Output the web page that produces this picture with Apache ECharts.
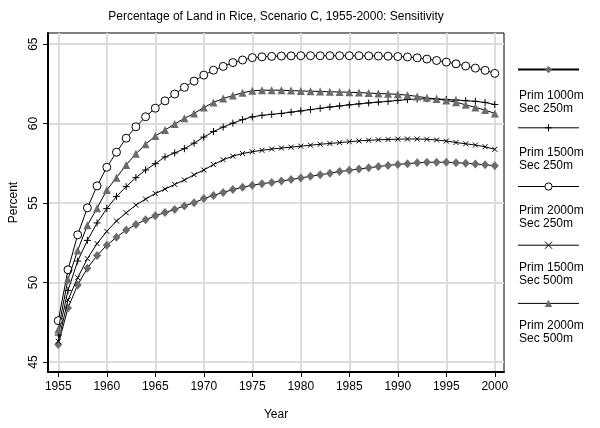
<!DOCTYPE html>
<html>
<head>
<meta charset="utf-8">
<script src="https://cdn.jsdelivr.net/npm/echarts@6/dist/echarts.min.js"></script>
<style>
html,body{margin:0;padding:0;background:#fff;}
#chart{width:600px;height:428px;}
</style>
</head>
<body>
<div id="chart"></div>
<script>
const years = [];
for (let y = 1955; y <= 2000; y++) years.push(y);

const xTicks = [1955, 1960, 1965, 1970, 1975, 1980, 1985, 1990, 1995, 2000];
const yTicks = [45, 50, 55, 60, 65];

const seriesNames = [
  'Prim 1000m\nSec 250m',
  'Prim 1500m\nSec 250m',
  'Prim 2000m\nSec 250m',
  'Prim 1500m\nSec 500m',
  'Prim 2000m\nSec 500m'
];

const prim1000sec250 = [46.1, 48.4, 49.85, 50.9, 51.7, 52.35, 52.85, 53.3, 53.65, 53.95,
  54.2, 54.4, 54.6, 54.82, 55.02, 55.28, 55.48, 55.67, 55.85, 56.0,
  56.12, 56.22, 56.3, 56.38, 56.48, 56.58, 56.68, 56.78, 56.88, 56.98,
  57.06, 57.14, 57.22, 57.3, 57.37, 57.43, 57.48, 57.53, 57.56, 57.57,
  57.57, 57.54, 57.5, 57.46, 57.41, 57.35];

const prim1500sec250 = [46.7, 49.5, 51.35, 52.65, 53.75, 54.65, 55.42, 56.03, 56.6, 57.08,
  57.48, 57.9, 58.15, 58.42, 58.77, 59.15, 59.5, 59.78, 60.03, 60.25,
  60.42, 60.52, 60.58, 60.64, 60.72, 60.8, 60.88, 60.96, 61.04, 61.11,
  61.18, 61.24, 61.3, 61.35, 61.4, 61.46, 61.51, 61.54, 61.56, 61.55,
  61.52, 61.48, 61.44, 61.4, 61.33, 61.2];

const prim2000sec250 = [47.6, 50.8, 53.0, 54.7, 56.08, 57.25, 58.2, 59.08, 59.8, 60.43,
  60.97, 61.43, 61.86, 62.28, 62.67, 63.05, 63.36, 63.6, 63.84, 64.0,
  64.15, 64.2, 64.23, 64.25, 64.26, 64.27, 64.27, 64.27, 64.27, 64.27,
  64.27, 64.27, 64.26, 64.25, 64.24, 64.22, 64.19, 64.14, 64.06, 63.97,
  63.87, 63.76, 63.62, 63.49, 63.35, 63.16];

const prim1500sec500 = [46.3, 48.9, 50.3, 51.5, 52.45, 53.22, 53.87, 54.39, 54.87, 55.25,
  55.6, 55.88, 56.17, 56.45, 56.78, 57.08, 57.42, 57.72, 57.95, 58.12,
  58.23, 58.32, 58.4, 58.46, 58.52, 58.58, 58.64, 58.7, 58.75, 58.8,
  58.86, 58.91, 58.95, 58.98, 59.0, 59.02, 59.03, 59.03, 59.01, 58.97,
  58.9, 58.81, 58.73, 58.65, 58.54, 58.38];

const prim2000sec500 = [47.05, 50.2, 52.02, 53.6, 54.68, 55.82, 56.6, 57.4, 58.1, 58.7,
  59.22, 59.6, 59.97, 60.33, 60.64, 61.01, 61.33, 61.58, 61.76, 61.94,
  62.06, 62.1, 62.1, 62.1, 62.08, 62.05, 62.04, 62.02, 62.0, 61.99,
  61.97, 61.95, 61.92, 61.89, 61.87, 61.84, 61.79, 61.71, 61.62, 61.54,
  61.46, 61.35, 61.18, 61.02, 60.85, 60.64];

const allValues = [prim1000sec250, prim1500sec250, prim2000sec250, prim1500sec500, prim2000sec500];

const FONT = 'Liberation Sans, Arial, sans-serif';
const GRAY = '#6b6b6b';
const plusPath = 'path://M5,0L5,10M0,5L10,5';
const crossPath = 'path://M0,0L10,10M10,0L0,10';

const symbolDefs = [
  { symbol: 'diamond', size: [8, 9], itemStyle: { color: GRAY, borderWidth: 0 } },
  { symbol: plusPath, size: 7, itemStyle: { color: 'none', borderColor: '#000', borderWidth: 1 } },
  { symbol: 'circle', size: 8, itemStyle: { color: '#fff', borderColor: '#000', borderWidth: 1 } },
  { symbol: crossPath, size: 5, itemStyle: { color: 'none', borderColor: '#000', borderWidth: 1 } },
  { symbol: 'triangle', size: 8, itemStyle: { color: GRAY, borderWidth: 0 } }
];

const series = allValues.map((vals, i) => ({
  name: seriesNames[i],
  type: 'line',
  data: years.map((y, k) => [y, vals[k]]),
  symbol: symbolDefs[i].symbol,
  symbolSize: symbolDefs[i].size,
  showAllSymbol: true,
  lineStyle: { color: '#000', width: 1 },
  itemStyle: symbolDefs[i].itemStyle,
  emphasis: { disabled: true },
  animation: false,
  z: 3 + i
}));

const legendIconItems = seriesNames.map((n, i) => ({
  name: n,
  lineStyle: { width: i === 0 ? 2 : 1, color: '#000' },
  itemStyle: Object.assign({}, symbolDefs[i].itemStyle)
}));

const chart = echarts.init(document.getElementById('chart'), null, { renderer: 'canvas' });
chart.setOption({
  backgroundColor: '#fff',
  animation: false,
  textStyle: { fontFamily: FONT },
  graphic: [{
    type: 'text',
    x: 276, y: 17,
    style: {
      text: 'Percentage of Land in Rice, Scenario C, 1955-2000: Sensitivity',
      font: '12px ' + FONT, fill: '#000',
      textAlign: 'center', textVerticalAlign: 'middle'
    }
  }],
  grid: {
    left: 48, top: 33, right: 96, bottom: 56,
    show: true, borderColor: '#000', borderWidth: 1, backgroundColor: '#fff'
  },
  legend: [{
    data: legendIconItems,
    orient: 'vertical',
    left: 517, top: 66,
    itemWidth: 61, itemHeight: 9,
    itemGap: 48.5,
    padding: 0,
    formatter: () => '',
    textStyle: { fontSize: 9, lineHeight: 9 },
    selectedMode: false
  }, {
    data: seriesNames,
    orient: 'vertical',
    left: 513, top: 89,
    icon: 'rect',
    itemWidth: 1, itemHeight: 1,
    itemStyle: { color: 'rgba(0,0,0,0)', borderWidth: 0 },
    itemGap: 31.5,
    padding: 0,
    textStyle: { fontSize: 12, lineHeight: 13, color: '#000', fontFamily: FONT },
    selectedMode: false
  }],
  xAxis: {
    type: 'value',
    min: 1953.94, max: 2000.95,
    name: 'Year', nameLocation: 'middle', nameGap: 37,
    nameTextStyle: { fontSize: 12, color: '#000', fontFamily: FONT },
    axisLine: { show: true, onZero: false, lineStyle: { color: '#000', width: 2 } },
    axisTick: { show: true, length: 5, customValues: xTicks, lineStyle: { color: '#000', width: 1 } },
    axisLabel: { customValues: xTicks, formatter: v => String(v), margin: 9, fontSize: 12, color: '#000', fontFamily: FONT },
    splitLine: { show: true, lineStyle: { color: '#dcdcdc', width: 2 } }
  },
  yAxis: {
    type: 'value',
    min: 44.37, max: 65.7,
    name: 'Percent', nameLocation: 'middle', nameGap: 27,
    nameTextStyle: { fontSize: 12, color: '#000', fontFamily: FONT },
    axisLine: { show: true, onZero: false, lineStyle: { color: '#000', width: 2 } },
    axisTick: { show: true, length: 5, customValues: yTicks, lineStyle: { color: '#000', width: 1 } },
    axisLabel: { customValues: yTicks, formatter: v => String(v), rotate: 90, margin: 8, fontSize: 12, color: '#000', fontFamily: FONT },
    splitLine: { show: true, lineStyle: { color: '#dcdcdc', width: 2 } }
  },
  series: series
});
</script>
</body>
</html>
